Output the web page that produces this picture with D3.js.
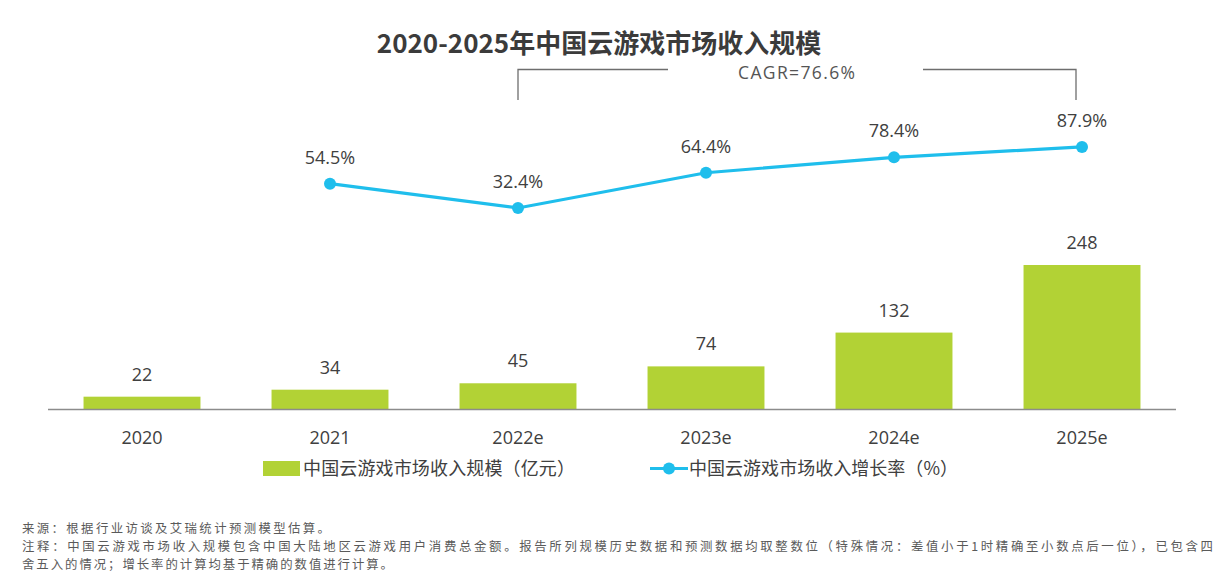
<!DOCTYPE html>
<html><head><meta charset="utf-8">
<script src="https://cdn.jsdelivr.net/npm/d3@7/dist/d3.min.js"></script>
<style>
body{margin:0;background:#fff;}
text{font-family:"Open Sans","Noto Sans CJK SC",sans-serif;}
.cn{font-family:"Noto Sans CJK SC","Open Sans",sans-serif;}
</style></head>
<body><svg id="c" width="1227" height="580"></svg>
<script>
const categories = ["2020","2021","2022e","2023e","2024e","2025e"];
const revenue = [22,34,45,74,132,248];
const growthCats = ["2021","2022e","2023e","2024e","2025e"];
const growth = [54.5,32.4,64.4,78.4,87.9];
const titleText = "2020-2025年中国云游戏市场收入规模";
const cagrText = "CAGR=76.6%";
const legendBar = "中国云游戏市场收入规模（亿元）";
const legendLine = "中国云游戏市场收入增长率（%）";
const footer = ["来源：根据行业访谈及艾瑞统计预测模型估算。",
 "注释：中国云游戏市场收入规模包含中国大陆地区云游戏用户消费总金额。报告所列规模历史数据和预测数据均取整数位（特殊情况：差值小于1时精确至小数点后一位），已包含四",
 "舍五入的情况；增长率的计算均基于精确的数值进行计算。"];

const svg = d3.select("#c");
const base = 409.5;
const x = d3.scaleBand().domain(categories).range([48,1176]).paddingInner(0.378).paddingOuter(0.189);
const yBar = d3.scaleLinear().domain([0,248]).range([base,265]);
const yLine = d3.scaleLinear().domain([0,100]).range([243.6,133.6]);
const cx = d => x(d)+x.bandwidth()/2;

svg.append("text").attr("x",599).attr("y",52.5).attr("text-anchor","middle")
  .attr("class","cn").attr("font-size",26).attr("font-weight","bold").attr("fill","#3b3b3b").text(titleText);

// CAGR bracket
const bx1 = cx("2022e"), bx2 = cx("2025e")-6;
const g = svg.append("g").attr("stroke","#6e6e6e").attr("stroke-width",1.3).attr("fill","none");
g.append("path").attr("d",`M${bx1},100V69.5H668`);
g.append("path").attr("d",`M923,69.5H${bx2}V100`);
svg.append("text").attr("x",738).attr("y",78.5).attr("font-size",17.5).attr("fill","#555")
  .attr("textLength",117).attr("lengthAdjust","spacing").text(cagrText);

// bars
svg.selectAll("rect.bar").data(revenue).enter().append("rect").attr("class","bar")
  .attr("x",(d,i)=>x(categories[i])).attr("width",x.bandwidth())
  .attr("y",d=>yBar(d)).attr("height",d=>base-yBar(d)).attr("fill","#b2d235");
svg.selectAll("text.bl").data(revenue).enter().append("text").attr("class","bl")
  .attr("x",(d,i)=>cx(categories[i])).attr("y",d=>yBar(d)-16).attr("text-anchor","middle")
  .attr("font-size",18).attr("fill","#404040").text(d=>d);

// axis
const axis = svg.append("g").attr("transform",`translate(0,${base})`).call(d3.axisBottom(x).tickSize(0).tickPadding(0));
axis.select(".domain").attr("stroke","#8c8c8c").attr("stroke-width",1.5).attr("d","M48,0H1176");
axis.selectAll("text").attr("font-size",18).attr("fill","#404040").attr("dy",34).attr("font-family","'Open Sans',sans-serif");

// line
const line = d3.line().x((d,i)=>cx(growthCats[i])).y(d=>yLine(d));
svg.append("path").datum(growth).attr("d",line).attr("fill","none").attr("stroke","#1fbeec").attr("stroke-width",3.2);
svg.selectAll("circle.pt").data(growth).enter().append("circle").attr("class","pt")
  .attr("cx",(d,i)=>cx(growthCats[i])).attr("cy",d=>yLine(d)).attr("r",6).attr("fill","#1fbeec");
svg.selectAll("text.ll").data(growth).enter().append("text").attr("class","ll")
  .attr("x",(d,i)=>cx(growthCats[i])).attr("y",d=>yLine(d)-20).attr("text-anchor","middle")
  .attr("font-size",18).attr("fill","#404040").text(d=>d.toFixed(1)+"%");

// legend
svg.append("rect").attr("x",263).attr("y",461).attr("width",37).attr("height",15).attr("fill","#b2d235");
svg.append("text").attr("x",303).attr("y",475).attr("class","cn").attr("font-size",18).attr("fill","#404040")
  .attr("textLength",272).attr("lengthAdjust","spacing").text(legendBar);
svg.append("line").attr("x1",650).attr("x2",688).attr("y1",468.5).attr("y2",468.5).attr("stroke","#1fbeec").attr("stroke-width",3.2);
svg.append("circle").attr("cx",669).attr("cy",468.5).attr("r",6).attr("fill","#1fbeec");
svg.append("text").attr("x",689).attr("y",475).attr("class","cn").attr("font-size",18).attr("fill","#404040")
  .attr("textLength",269).attr("lengthAdjust","spacing").text(legendLine);

// footer
const footLen = [308,1191,371];
svg.selectAll("text.ft").data(footer).enter().append("text").attr("class","ft cn")
  .attr("x",22).attr("y",(d,i)=>533+i*18).attr("font-size",12.4).attr("fill","#5a5a5a")
  .attr("textLength",(d,i)=>footLen[i]).attr("lengthAdjust","spacing").text(d=>d);
</script></body></html>
